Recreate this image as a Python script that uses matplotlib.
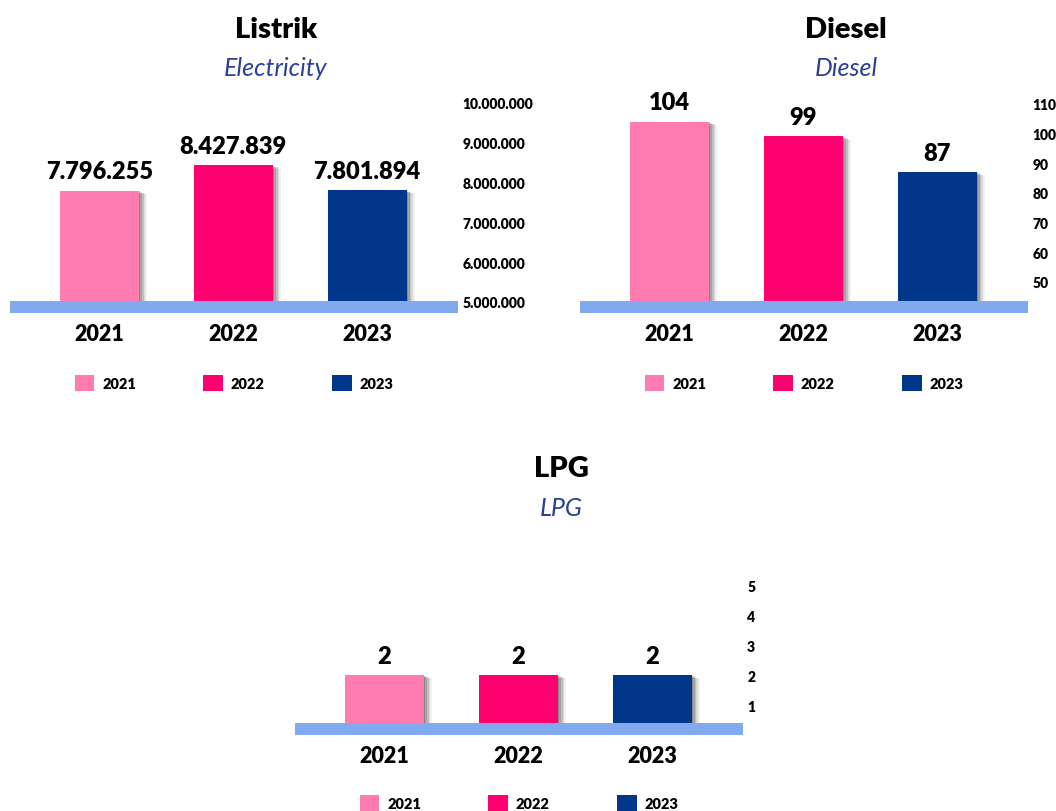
import matplotlib
matplotlib.use("Agg")
import matplotlib.pyplot as plt
from matplotlib.patches import Patch, Rectangle
import matplotlib.patheffects as pe

plt.rcParams["font.family"] = ["Lato", "DejaVu Sans"]

# ---- data ----
years = ["2021", "2022", "2023"]
listrik = [7796255, 8427839, 7801894]
diesel = [104, 99, 87]
lpg = [2, 2, 2]

listrik_ticks = [5000000, 6000000, 7000000, 8000000, 9000000, 10000000]
diesel_ticks = [50, 60, 70, 80, 90, 100, 110]
lpg_ticks = [1, 2, 3, 4, 5]

titles = ["Listrik", "Diesel", "LPG"]
subtitles = ["Electricity", "Diesel", "LPG"]

# ---- style ----
colors = ["#FF7BB2", "#FF0070", "#01378A"]
band_color = "#80A9EE"
sub_color = "#2B3F96"
heavy = "heavy"

W, H = 1056, 812
fig = plt.figure(figsize=(W / 100, H / 100), dpi=100)


def dots(v):
    return f"{v:,.0f}".replace(",", ".")


# soft drop shadow built from stacked offset copies
shadow = [
    pe.SimplePatchShadow(offset=(1.0, -0.6), shadow_rgbFace="black", alpha=0.16),
    pe.SimplePatchShadow(offset=(2.2, -1.0), shadow_rgbFace="black", alpha=0.14),
    pe.SimplePatchShadow(offset=(3.4, -1.4), shadow_rgbFace="black", alpha=0.12),
    pe.SimplePatchShadow(offset=(4.6, -1.8), shadow_rgbFace="black", alpha=0.09),
    pe.SimplePatchShadow(offset=(5.8, -2.2), shadow_rgbFace="black", alpha=0.06),
    pe.Normal(),
]


def panel(left, top, bottom, values, ticks, ylim, title, subtitle,
          title_y, sub_y, legend_gap):
    width = 448
    ax = fig.add_axes([left / W, 1 - bottom / H, width / W, (bottom - top) / H])
    ax.set_xlim(-0.67, 2.68)
    ax.set_ylim(*ylim)
    y0 = ylim[0]
    bars = ax.bar(range(3), [v - y0 for v in values], bottom=y0, width=0.59,
                  color=colors, zorder=2)
    for b in bars:
        b.set_path_effects(shadow)
    for i, v in enumerate(values):
        ax.annotate(dots(v), (i, v), xytext=(0, 9), textcoords="offset points",
                    ha="center", va="baseline", fontsize=17, fontweight=heavy,
                    color="black", zorder=4)
    # ground band
    band_h = 12 / (bottom - top)
    ax.add_patch(Rectangle((0, 0), 1, band_h, transform=ax.transAxes,
                           facecolor=band_color, edgecolor="none", zorder=3))
    for s in ax.spines.values():
        s.set_visible(False)
    ax.set_xticks(range(3))
    ax.set_xticklabels(years, fontsize=15.5, fontweight=heavy)
    ax.tick_params(axis="x", length=0, pad=7)
    ax.yaxis.tick_right()
    ax.set_yticks(ticks)
    ax.set_yticklabels([dots(t) for t in ticks], fontsize=10, fontweight=heavy)
    ax.tick_params(axis="y", length=0, pad=3)
    ax.patch.set_alpha(0)

    cx = (left + width / 2 + 42) / W
    fig.text(cx, 1 - title_y / H, title, ha="center", va="center",
             fontsize=21, fontweight=heavy, color="black")
    fig.text(cx, 1 - sub_y / H, subtitle, ha="center", va="center",
             fontsize=18, style="italic", color=sub_color)

    handles = [Patch(facecolor=c, edgecolor="none") for c in colors]
    ax.legend(handles, years, loc="center", ncol=3, frameon=False,
              bbox_to_anchor=(0.5, -legend_gap / (bottom - top)),
              prop={"weight": heavy, "size": 10.5},
              handlelength=1.35, handleheight=1.35, handletextpad=0.55,
              columnspacing=4.6)
    return ax


panel(10, 90, 314, listrik, listrik_ticks, (4720000, 10350000),
      titles[0], subtitles[0], 30, 69, 70)
panel(580, 90, 314, diesel, diesel_ticks, (39.5, 115),
      titles[1], subtitles[1], 30, 69, 70)
panel(295, 570, 736, lpg, lpg_ticks, (0, 5.54),
      titles[2], subtitles[2], 469, 508, 68)

fig.savefig("out.png", dpi=100, facecolor="white")
